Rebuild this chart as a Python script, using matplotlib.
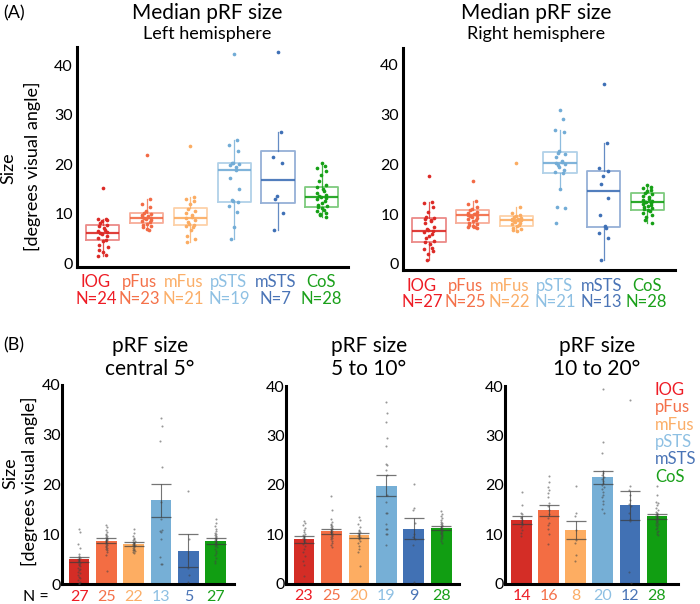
import numpy as np
import matplotlib.pyplot as plt

plt.rcParams['font.family'] = ['Lato', 'DejaVu Sans']

regions = ['IOG', 'pFus', 'mFus', 'pSTS', 'mSTS', 'CoS']
dot_cols = ['#dc2a26', '#f26a45', '#fbac62', '#72acd6', '#3f70b6', '#15a015']
txt_cols = ['#ee1c25', '#f4714a', '#fbae68', '#8ec0e3', '#4a74b6', '#1aa01a']
bar_cols = ['#d42d26', '#f36d43', '#fdad62', '#76afd6', '#4171b4', '#119e12']

# ---- (A) median pRF size, per-subject points + box stats
lh_n = [24, 23, 21, 19, 7, 28]
rh_n = [27, 25, 22, 21, 13, 28]

lh_points = [
    [15.3, 9.0, 8.9, 8.7, 8.5, 8.2, 7.8, 7.5, 7.1, 6.8, 6.5, 6.3, 6.1, 5.9, 5.6, 5.2, 4.8, 4.5, 3.6, 3.2, 2.6, 2.3, 1.6, 1.4],
    [21.8, 12.9, 12.0, 11.3, 10.6, 10.2, 10.0, 9.8, 9.6, 9.4, 9.3, 9.2, 9.1, 9.0, 8.8, 8.6, 8.3, 8.0, 7.8, 7.6, 7.3, 7.0, 6.8],
    [23.6, 13.4, 13.0, 12.5, 12.0, 11.0, 10.6, 10.2, 9.8, 9.4, 9.1, 8.8, 8.4, 8.0, 7.8, 7.6, 7.4, 6.8, 5.5, 5.0, 4.4],
    [42.3, 24.9, 23.8, 22.7, 20.2, 20.2, 20.0, 19.9, 19.5, 18.8, 17.2, 15.1, 12.8, 12.6, 12.3, 11.5, 10.4, 7.4, 5.0],
    [42.7, 26.5, 21.5, 20.2, 13.6, 13.0, 10.1, 6.7],
    [20.3, 19.6, 19.2, 18.6, 17.8, 16.6, 15.9, 15.4, 15.0, 14.6, 14.2, 13.8, 13.5, 13.4, 13.2, 12.9, 12.5, 12.1, 11.8, 11.5, 11.3, 11.1, 10.8, 10.5, 10.2, 10.0, 9.7, 9.4],
]
rh_points = [
    [17.6, 12.4, 12.2, 11.5, 10.5, 9.4, 9.2, 9.0, 8.8, 8.6, 8.2, 7.4, 7.0, 6.8, 6.6, 6.3, 6.0, 5.6, 5.2, 4.6, 4.4, 4.0, 3.2, 2.9, 2.6, 2.0, 0.7],
    [16.6, 12.6, 12.0, 11.5, 11.0, 10.8, 10.5, 10.3, 10.1, 10.0, 9.9, 9.8, 9.6, 9.4, 9.2, 9.0, 8.8, 8.6, 8.3, 8.1, 7.9, 7.6, 7.4, 7.3, 7.2],
    [20.2, 11.4, 10.2, 9.8, 9.6, 9.4, 9.2, 9.1, 9.0, 8.9, 8.9, 8.8, 8.6, 8.4, 8.2, 8.0, 7.8, 7.6, 7.2, 7.0, 6.8, 6.6],
    [31.0, 29.1, 27.0, 26.6, 22.6, 22.3, 22.0, 21.5, 20.6, 20.4, 20.2, 20.0, 19.8, 19.5, 18.9, 18.5, 18.3, 15.0, 11.4, 11.2, 8.3],
    [36.1, 24.3, 19.2, 18.6, 17.7, 16.0, 13.2, 9.9, 7.7, 7.2, 6.2, 5.2, 0.8],
    [15.8, 15.5, 15.2, 14.9, 14.6, 14.3, 14.0, 13.7, 13.4, 13.1, 12.9, 12.7, 12.5, 12.4, 12.2, 12.0, 11.8, 11.6, 11.4, 11.2, 11.0, 10.8, 10.6, 10.3, 9.9, 9.4, 8.8, 8.2],
]

lh_q1 = [4.7, 8.1, 7.7, 12.4, 12.2, 11.3]
lh_med = [6.2, 9.2, 9.1, 18.8, 16.9, 13.4]
lh_q3 = [7.7, 10.2, 11.1, 20.3, 22.7, 15.4]
lh_lo = [1.4, 6.8, 4.4, 5.0, 6.7, 9.4]
lh_hi = [9.0, 12.9, 13.4, 24.9, 26.5, 20.3]

rh_q1 = [4.4, 8.3, 7.7, 18.3, 7.3, 10.9]
rh_med = [6.6, 9.9, 8.9, 20.2, 14.6, 12.5]
rh_q3 = [9.2, 10.9, 9.7, 22.5, 18.7, 14.2]
rh_lo = [0.7, 7.2, 6.6, 15.0, 0.8, 8.2]
rh_hi = [12.4, 12.6, 11.4, 27.0, 24.3, 15.8]

# ---- (B) pRF size by eccentricity band: means, sem, per-subject points
ecc_titles = ['pRF size\ncentral 5°', 'pRF size\n5 to 10°', 'pRF size\n10 to 20°']
ecc_n = [[27, 25, 22, 13, 5, 27],
         [23, 25, 20, 19, 9, 28],
         [14, 16, 8, 20, 12, 28]]
ecc_mean = [[5.0, 8.7, 8.0, 16.8, 6.7, 8.6],
            [9.0, 10.6, 9.8, 19.8, 11.1, 11.2],
            [12.8, 14.8, 10.9, 21.5, 15.8, 13.6]]
ecc_sem = [[0.5, 0.5, 0.4, 3.3, 3.3, 0.55],
           [0.7, 0.5, 0.5, 2.1, 2.1, 0.45],
           [0.8, 1.05, 1.85, 1.35, 2.9, 0.55]]
ecc_points = [
    [[11.1, 10.4, 8.0, 7.2, 6.0, 5.6, 5.2, 5.0, 4.8, 4.6, 4.4, 4.2, 4.0, 3.8, 3.6, 3.3, 3.0, 2.8, 2.5, 2.2, 1.9, 1.5, 1.2, 0.8, 0.5, 0.3, 0.1],
     [11.9, 11.4, 10.8, 10.4, 10.0, 9.8, 9.6, 9.4, 9.2, 9.0, 8.9, 8.8, 8.6, 8.4, 8.2, 8.0, 7.8, 7.6, 7.4, 7.2, 7.0, 6.8, 6.4, 5.9, 2.7],
     [11.0, 10.2, 9.6, 9.2, 9.0, 8.8, 8.6, 8.4, 8.3, 8.2, 8.0, 7.9, 7.8, 7.6, 7.4, 7.2, 7.0, 6.9, 6.8, 6.6, 6.5, 6.3],
     [33.3, 31.7, 28.7, 23.6, 16.5, 13.0, 10.8, 10.6, 10.5, 9.0, 5.5, 4.1, 4.0],
     [18.7, 9.0, 3.3, 1.8, 0.4],
     [13.0, 12.2, 11.6, 11.0, 10.6, 10.2, 10.0, 9.8, 9.6, 9.4, 9.2, 9.0, 8.8, 8.6, 8.4, 8.2, 8.0, 7.8, 7.6, 7.4, 7.0, 6.6, 6.2, 5.8, 5.2, 4.6, 4.2]],
    [[12.6, 12.2, 11.8, 11.2, 10.8, 10.4, 10.0, 9.8, 9.6, 9.4, 9.2, 9.0, 8.8, 8.6, 8.4, 8.0, 7.6, 7.0, 6.4, 5.6, 4.6, 3.8, 1.5],
     [17.7, 14.8, 13.0, 12.4, 12.0, 11.8, 11.6, 11.4, 11.2, 11.0, 10.8, 10.6, 10.5, 10.4, 10.2, 10.0, 9.8, 9.6, 9.4, 9.2, 9.0, 8.6, 8.2, 7.8, 7.3],
     [13.5, 12.8, 12.0, 11.4, 10.8, 10.6, 10.4, 10.2, 10.0, 9.8, 9.6, 9.4, 9.2, 9.0, 8.6, 8.2, 7.6, 7.0, 6.4, 3.6],
     [36.7, 34.6, 32.8, 29.5, 27.9, 24.3, 23.9, 22.9, 22.0, 18.0, 16.5, 14.3, 14.2, 12.0, 11.1, 11.0, 10.1, 10.0, 7.8],
     [20.1, 15.3, 14.9, 12.2, 10.1, 9.4, 9.0, 7.7, 0.3],
     [14.6, 14.1, 13.6, 13.2, 12.8, 12.5, 12.2, 12.0, 11.8, 11.6, 11.4, 11.2, 11.1, 11.0, 10.9, 10.8, 10.6, 10.4, 10.3, 10.2, 10.0, 9.8, 9.6, 9.4, 9.2, 9.0, 8.6, 8.2]],
    [[18.5, 15.9, 14.3, 14.0, 13.5, 13.2, 12.8, 12.5, 12.2, 11.8, 11.5, 10.8, 10.2, 9.6],
     [21.7, 20.6, 19.6, 18.9, 18.3, 17.5, 16.4, 15.6, 14.8, 14.0, 13.2, 12.3, 11.8, 11.0, 10.1, 7.9],
     [19.7, 14.2, 13.6, 10.9, 8.9, 8.2, 5.8, 4.6],
     [39.4, 28.6, 26.4, 22.8, 22.4, 22.0, 21.6, 21.2, 20.8, 20.4, 20.0, 19.6, 19.2, 18.6, 18.0, 17.5, 16.8, 16.2, 15.0, 14.3],
     [37.1, 19.7, 19.0, 18.0, 17.0, 16.2, 15.6, 14.2, 13.0, 12.6, 2.4, 0.2],
     [19.7, 18.0, 16.6, 16.4, 15.8, 15.2, 14.8, 14.5, 14.2, 14.0, 13.8, 13.6, 13.4, 13.2, 13.0, 12.8, 12.6, 12.4, 12.2, 12.0, 11.8, 11.6, 11.3, 11.0, 10.7, 10.4, 10.1, 9.8]],
]

W, H = 700, 604
fig = plt.figure(figsize=(7, 6.04), dpi=100)


def px_axes(x0, y0, x1, y1):
    return fig.add_axes([x0 / W, 1 - y1 / H, (x1 - x0) / W, (y1 - y0) / H])


def style(ax, pad):
    for s in ['top', 'right']:
        ax.spines[s].set_visible(False)
    for s in ['left', 'bottom']:
        ax.spines[s].set_linewidth(2.2)
        ax.spines[s].set_color('black')
    ax.set_xticks([])
    ax.set_yticks([0, 10, 20, 30, 40])
    ax.tick_params(axis='y', length=0, pad=pad, labelsize=11.5)


def jitter(k, w):
    return w * np.sin(np.arange(k) * 2.39996)


lab_shift = [-0.16, -0.17, -0.16, -0.12, -0.05, -0.02]


def box_panel(ax, pts, q1, med, q3, lo, hi, ns):
    stats = []
    for i in range(6):
        stats.append(dict(med=med[i], q1=q1[i], q3=q3[i], whislo=lo[i], whishi=hi[i]))
    pos = np.arange(1, 7)
    b = ax.bxp(stats, positions=pos, widths=0.76, showfliers=False, showcaps=False,
               patch_artist=False, manage_ticks=False)
    for i in range(6):
        b['boxes'][i].set(color=dot_cols[i], alpha=0.55, lw=1.3)
        b['medians'][i].set(color=dot_cols[i], lw=1.6, alpha=0.9)
        b['whiskers'][2 * i].set(color=dot_cols[i], lw=0.9, alpha=0.8)
        b['whiskers'][2 * i + 1].set(color=dot_cols[i], lw=0.9, alpha=0.8)
        v = np.array(pts[i])
        ax.scatter(pos[i] + jitter(len(v), 0.11), v, s=7, color=dot_cols[i], lw=0, zorder=3)
        tx = pos[i] + lab_shift[i]
        ax.text(tx, -0.07, regions[i], color=txt_cols[i], fontsize=12,
                ha='center', va='center', transform=ax.get_xaxis_transform())
        ax.text(tx, -0.145, 'N=%d' % ns[i], color=txt_cols[i], fontsize=12,
                ha='center', va='center', transform=ax.get_xaxis_transform())
    style(ax, 3)


# (A) left hemisphere
ax1 = px_axes(77, 47, 348, 267)
ax1.set_xlim(0.41, 6.6)
ax1.set_ylim(-0.75, 43.7)
box_panel(ax1, lh_points, lh_q1, lh_med, lh_q3, lh_lo, lh_hi, lh_n)
fig.text(207 / W, 1 - 13 / H, 'Median pRF size', ha='center', va='center', fontsize=15)
fig.text(207 / W, 1 - 34 / H, 'Left hemisphere', ha='center', va='center', fontsize=13)

# (A) right hemisphere
ax2 = px_axes(403, 48, 675, 270)
ax2.set_xlim(0.405, 6.63)
ax2.set_ylim(-1.25, 43.4)
box_panel(ax2, rh_points, rh_q1, rh_med, rh_q3, rh_lo, rh_hi, rh_n)
fig.text(536 / W, 1 - 13 / H, 'Median pRF size', ha='center', va='center', fontsize=15)
fig.text(536 / W, 1 - 34 / H, 'Right hemisphere', ha='center', va='center', fontsize=13)

fig.text(3 / W, 1 - 13 / H, '(A)', ha='left', va='center', fontsize=13)
fig.text(8 / W, 1 - 168 / H, 'Size', rotation=90, ha='center', va='center', fontsize=13)
fig.text(32 / W, 1 - 166 / H, '[degrees visual angle]', rotation=90, ha='center', va='center', fontsize=13)

# (B) eccentricity bands
b_boxes = [(62, 385, 234, 584), (286, 386, 459, 583.5), (505, 386, 678, 583.5)]
b_xlims = [(0.375, 6.67), (0.345, 6.64), (0.39, 6.78)]
b_title_x = [150, 369, 597]
for p in range(3):
    ax = px_axes(*b_boxes[p])
    pos = np.arange(1, 7)
    ax.bar(pos, ecc_mean[p], width=0.76, color=bar_cols, zorder=1)
    ax.errorbar(pos, ecc_mean[p], yerr=ecc_sem[p], fmt='none', ecolor='#3a3a3a',
                elinewidth=0.8, capsize=7, capthick=0.9, alpha=0.7, zorder=2)
    for i in range(6):
        v = np.array(ecc_points[p][i])
        ax.scatter(pos[i] + jitter(len(v), 0.03), v, s=2.2, color='#444444',
                   alpha=0.55, lw=0, zorder=3)
        ax.text(pos[i], -0.065, str(ecc_n[p][i]), color=txt_cols[i], fontsize=11.5,
                ha='center', va='center', transform=ax.get_xaxis_transform())
    ax.set_xlim(*b_xlims[p])
    ax.set_ylim(0, 40)
    style(ax, 1)
    t1, t2 = ecc_titles[p].split('\n')
    fig.text(b_title_x[p] / W, 1 - 346 / H, t1, ha='center', va='center', fontsize=15)
    fig.text(b_title_x[p] / W, 1 - 369 / H, t2, ha='center', va='center', fontsize=15)

fig.text(3 / W, 1 - 345 / H, '(B)', ha='left', va='center', fontsize=13)
fig.text(36 / W, 1 - 597 / H, 'N =', ha='center', va='center', fontsize=11.5)
fig.text(10 / W, 1 - 473 / H, 'Size', rotation=90, ha='center', va='center', fontsize=13)
fig.text(29 / W, 1 - 481 / H, '[degrees visual angle]', rotation=90, ha='center', va='center', fontsize=13)

for i in range(6):
    fig.text(655 / W, 1 - (390 + 17.3 * i) / H, regions[i], color=txt_cols[i],
             ha='left', va='center', fontsize=12)

fig.savefig('out.png', dpi=100)
